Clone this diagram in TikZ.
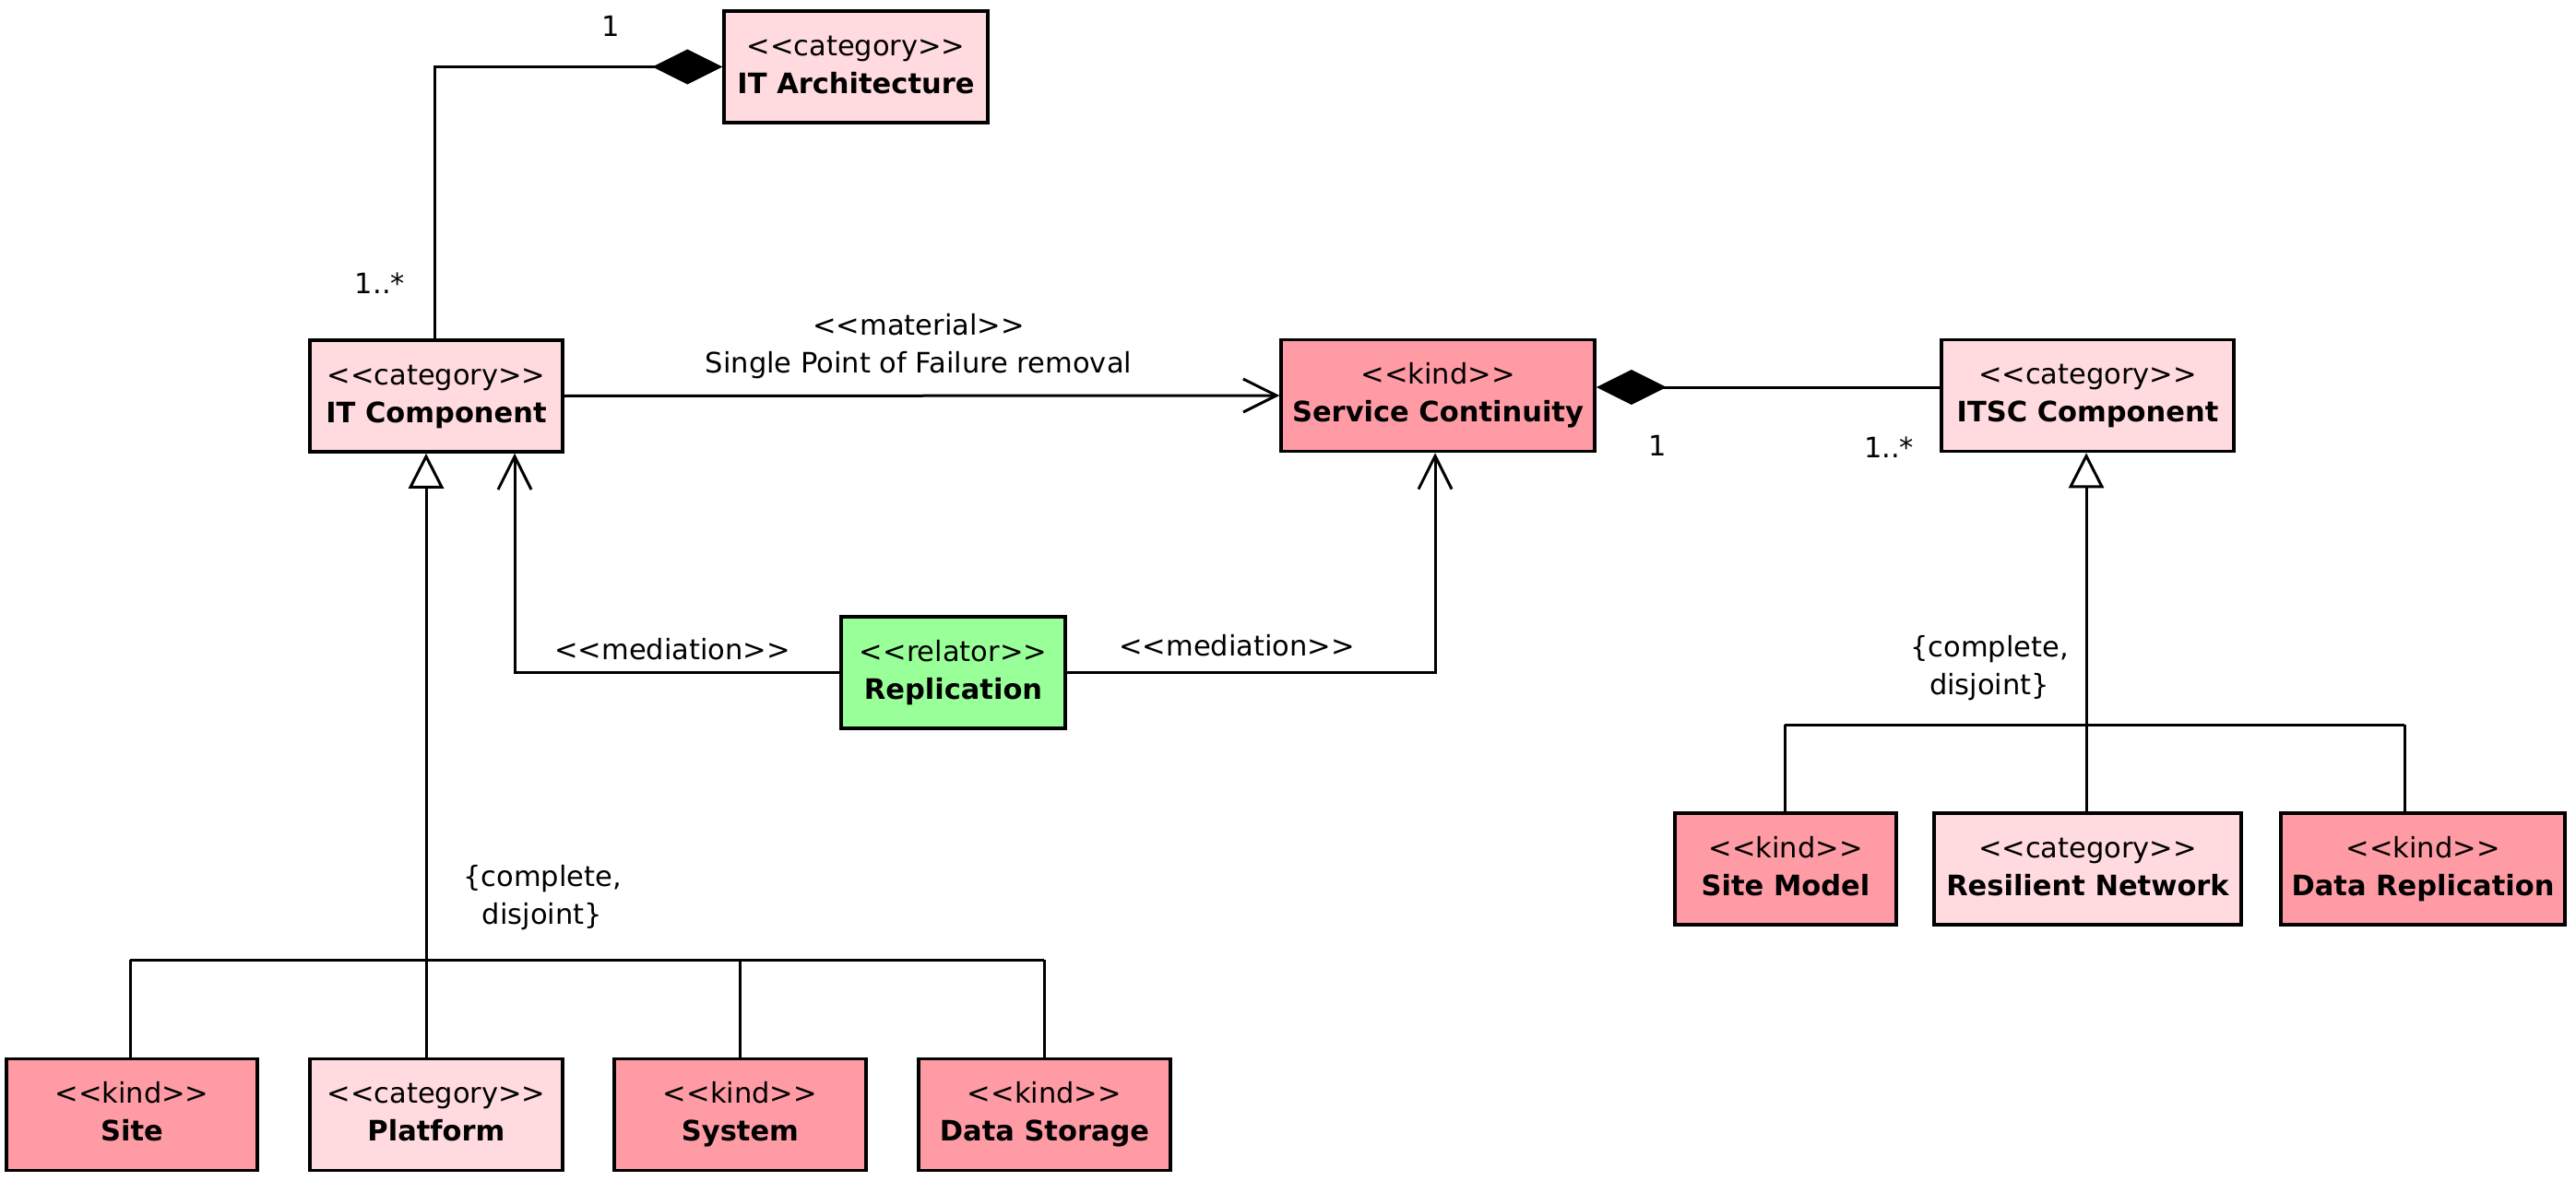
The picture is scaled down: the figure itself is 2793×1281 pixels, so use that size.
\documentclass[tikz,border=0pt]{standalone}
\usepackage{fontspec}
\setmainfont{DejaVu Sans}
\usetikzlibrary{arrows.meta}
\definecolor{kindc}{RGB}{255,155,165}
\definecolor{catc}{RGB}{255,218,222}
\definecolor{relc}{RGB}{153,255,153}
\newcommand{\stt}[1]{\strut<{}<#1>{}>}
\newcommand{\nmm}[1]{\strut{\bfseries #1}}
\begin{document}
\begin{tikzpicture}[x=1pt,y=-1pt,
  cls/.style={draw=black, line width=3.5pt, minimum height=121pt, inner sep=0pt, align=center,
    font=\fontsize{30.5}{41}\selectfont},
  kindbox/.style={cls, fill=kindc},
  catbox/.style={cls, fill=catc},
  relbox/.style={cls, fill=relc},
  conn/.style={line width=3pt},
  lbl/.style={font=\fontsize{30.5}{41}\selectfont, inner sep=0pt, align=center},
  comp/.style={conn, -{Diamond[length=76pt,width=38pt]}},
  assoc/.style={conn, -{Straight Barb[length=36pt,width=36pt,line width=3pt]}},
  gen/.style={conn, -{Triangle[open,fill=white,length=38pt,width=38pt,line width=3pt]}}
]
\useasboundingbox[fill=white] (0,0) rectangle (2793,1281);

% classes
\node[catbox, minimum width=286pt] (itarch) at (928,72.5) {\stt{category}\\\nmm{IT Architecture}};
\node[catbox, minimum width=274pt] (itcomp) at (473,429.5) {\stt{category}\\\nmm{IT Component}};
\node[kindbox, minimum width=340pt] (sc) at (1559,429) {\stt{kind}\\\nmm{Service Continuity}};
\node[catbox, minimum width=317pt] (itsc) at (2263.5,429) {\stt{category}\\\nmm{ITSC Component}};
\node[relbox, minimum width=243pt] (repl) at (1033.5,729.5) {\stt{relator}\\\nmm{Replication}};

\node[kindbox, minimum width=272pt] (site) at (143,1209) {\stt{kind}\\\nmm{Site}};
\node[catbox, minimum width=274pt] (platform) at (473,1209) {\stt{category}\\\nmm{Platform}};
\node[kindbox, minimum width=273pt] (system) at (802.5,1209) {\stt{kind}\\\nmm{System}};
\node[kindbox, minimum width=273pt] (dstore) at (1132.5,1209) {\stt{kind}\\\nmm{Data Storage}};

\node[kindbox, minimum width=240pt] (sitemodel) at (1936,942.5) {\stt{kind}\\\nmm{Site Model}};
\node[catbox, minimum width=333pt] (resnet) at (2263.5,942.5) {\stt{category}\\\nmm{Resilient Network}};
\node[kindbox, minimum width=308pt] (datarep) at (2627,942.5) {\stt{kind}\\\nmm{Data Replication}};

% composition IT Component - IT Architecture
\coordinate (c1) at (471,72.5);
\draw[comp] (itcomp.north -| c1) -- (c1) -- (itarch.west);
\node[lbl] (m1a) at (662,28) {1};
\node[lbl] (m1b) at (412,307) {1..*};

% composition ITSC Component - Service Continuity
\coordinate (c2) at (2105,420);
\draw[comp] (itsc.west |- c2) -- (sc.east |- c2);
\node[lbl] (m2a) at (1797,483) {1};
\node[lbl] (m2b) at (2048,485) {1..*};

% material
\draw[assoc] (itcomp.east) -- (sc.west);
\node[lbl] (mat) at (996,376) {\strut\stt{material}\\\strut Single Point of Failure removal};

% mediations
\coordinate (md1) at (558,729.5);
\coordinate (md2) at (1556,729.5);
\draw[assoc] (repl.west) -- (md1) -- (itcomp.south -| md1);
\draw[assoc] (repl.east) -- (md2) -- (sc.south -| md2);
\node[lbl] (med1) at (729,707) {\stt{mediation}};
\node[lbl] (med2) at (1341,703) {\stt{mediation}};

% generalization set left
\coordinate (g1) at (462,1041);
\coordinate (gl) at (141,1041);
\coordinate (gs) at (802,1041);
\coordinate (gr) at (1132,1041);
\draw[gen] (g1) -- (itcomp.south -| g1);
\draw[conn] (gl) -- (gr);
\draw[conn] (gl) -- (site.north -| gl);
\draw[conn] (g1) -- (platform.north -| g1);
\draw[conn] (gs) -- (system.north -| gs);
\draw[conn] (gr) -- (dstore.north -| gr);
\node[lbl] (gsl) at (588,974) {\strut\{complete,\\\strut disjoint\}};

% generalization set right
\coordinate (h1) at (2262,786);
\coordinate (hl) at (1935,786);
\coordinate (hr) at (2607,786);
\draw[gen] (h1) -- (itsc.south -| h1);
\draw[conn] (hl) -- (hr);
\draw[conn] (hl) -- (sitemodel.north -| hl);
\draw[conn] (h1) -- (resnet.north -| h1);
\draw[conn] (hr) -- (datarep.north -| hr);
\node[lbl] (gsr) at (2157,725) {\strut\{complete,\\\strut disjoint\}};
\end{tikzpicture}
\end{document}
